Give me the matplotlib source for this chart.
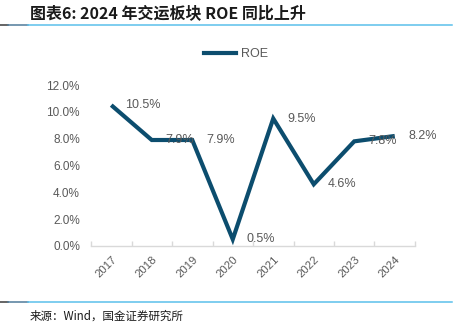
import matplotlib
matplotlib.use("Agg")
import matplotlib.pyplot as plt
from matplotlib.lines import Line2D

years = ["2017", "2018", "2019", "2020", "2021", "2022", "2023", "2024"]
roe = [10.5, 7.9, 7.9, 0.5, 9.5, 4.6, 7.8, 8.2]
yticks = [0, 2, 4, 6, 8, 10, 12]

W, H = 463, 322
fig = plt.figure(figsize=(W / 100, H / 100), dpi=100)

def fx(px):
    return px / W

def fy(py):
    return 1 - py / H

# axes: x from 91 to 415, y 0% at 246, 12% at 85
ax = fig.add_axes([fx(91), fy(246), fx(415) - fx(91), fy(85) - fy(246)])
x = list(range(len(years)))
line_color = "#0c4d6e"
text_color = "#595959"
ax.plot(x, roe, color=line_color, lw=3.0, solid_joinstyle="miter", solid_capstyle="butt")
ax.set_xlim(-0.5, len(years) - 0.5)
ax.set_ylim(0, 12)
for s in ["top", "right", "left"]:
    ax.spines[s].set_visible(False)
ax.spines["bottom"].set_color("#d9d9d9")
ax.spines["bottom"].set_linewidth(1.0)
ax.set_yticks(yticks)
ax.set_yticklabels([f"{v:.1f}%" for v in yticks], fontsize=8.5, color=text_color,
                   family="Liberation Sans")
ax.tick_params(axis="y", length=0, pad=8)
ax.set_xticks([i - 0.5 for i in range(len(years) + 1)], minor=False)
ax.set_xticklabels([])
ax.tick_params(axis="x", which="major", direction="in", length=3.5, color="#d9d9d9", width=1)
ax.set_xticks(x, minor=True)
ax.set_xticklabels(years, minor=True, rotation=45, ha="right", va="top",
                   rotation_mode="anchor", fontsize=8.2, color=text_color, family="Liberation Sans")
ax.tick_params(axis="x", which="minor", length=0, pad=6)
for xi, v in zip(x, roe):
    ax.annotate(f"{v:.1f}%", (xi, v), xytext=(10, 0), textcoords="offset points",
                ha="left", va="center", fontsize=9, color=text_color, family="Liberation Sans")

# legend
leg = ax.legend(handles=[Line2D([0], [0], color=line_color, lw=3.0)], labels=["ROE"],
                loc="center", bbox_to_anchor=(fx(236), fy(54)), bbox_transform=fig.transFigure,
                frameon=False, fontsize=9, handlelength=2.6, handletextpad=0.4)
for t in leg.get_texts():
    t.set_color(text_color)
    t.set_family("Liberation Sans")

# title
fig.text(fx(30), fy(13), "图表6: 2024 年交运板块 ROE 同比上升", fontsize=11.5, fontweight="bold",
         fontstyle="italic", color="#1a1a1a", ha="left", va="center",
         family=["Noto Sans CJK SC", "DejaVu Sans"])

# rules
for yy in (24.5, 301.5):
    fig.add_artist(Line2D([fx(0), fx(8)], [fy(yy), fy(yy)], color="#3a3a3a", lw=1.1))
    fig.add_artist(Line2D([fx(8), fx(28)], [fy(yy), fy(yy)], color="#4f7b9a", lw=1.1))
    fig.add_artist(Line2D([fx(28), fx(452)], [fy(yy), fy(yy)], color="#5bc0eb", lw=1.1))

fig.text(fx(30), fy(316), "来源：Wind，国金证券研究所", fontsize=8.3, color="#1a1a1a",
         ha="left", va="center", family=["Noto Sans CJK SC", "DejaVu Sans"])

fig.savefig("out.png", dpi=100)
